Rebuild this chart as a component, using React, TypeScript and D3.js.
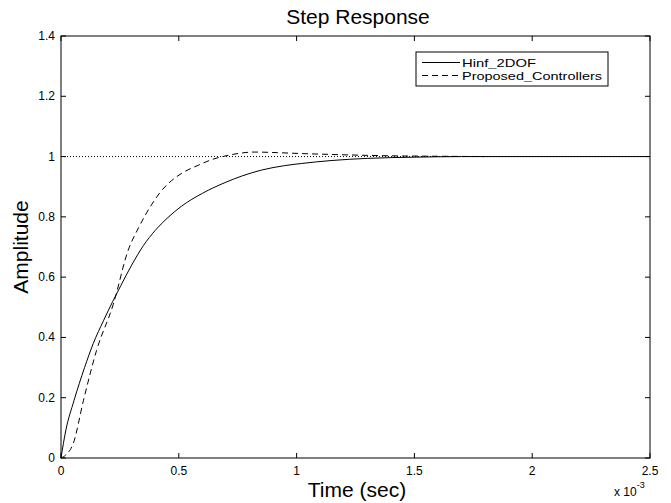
import React, { useEffect, useRef } from "react";
import * as d3 from "d3";

// time in units of 1e-3 sec
const hinfTime = [0, 0.02, 0.055, 0.1, 0.137, 0.18, 0.22, 0.254, 0.3, 0.35, 0.4, 0.45, 0.511, 0.6, 0.7, 0.766, 0.85, 0.95, 1.02, 1.15, 1.3, 1.5, 1.7, 1.8, 2.0, 2.5];
const hinfAmp = [0, 0.09, 0.19, 0.3, 0.38, 0.455, 0.52, 0.572, 0.64, 0.705, 0.755, 0.795, 0.835, 0.878, 0.915, 0.935, 0.955, 0.97, 0.977, 0.987, 0.994, 0.998, 1.0, 1.0, 1.0, 1.0];

const propTime = [0, 0.02, 0.052, 0.095, 0.151, 0.222, 0.285, 0.33, 0.384, 0.43, 0.469, 0.52, 0.582, 0.64, 0.709, 0.822, 0.92, 1.02, 1.15, 1.3, 1.45, 1.6, 1.8];
const propAmp = [0, 0.01, 0.048, 0.19, 0.357, 0.51, 0.689, 0.765, 0.84, 0.89, 0.92, 0.948, 0.971, 0.99, 1.004, 1.015, 1.013, 1.01, 1.007, 1.004, 1.002, 1.001, 1.0];

const xTicks = [0, 0.5, 1, 1.5, 2, 2.5];
const yTicks = [0, 0.2, 0.4, 0.6, 0.8, 1, 1.2, 1.4];
const legendLabels = ["Hinf_2DOF", "Proposed_Controllers"];

const W = 671;
const H = 503;

const App = () => {
  const chartRef = useRef<SVGSVGElement | null>(null);

  useEffect(() => {
    if (chartRef.current) drawChart(chartRef.current);
  }, []);

  const drawChart = (el: SVGSVGElement) => {
    const svg = d3.select(el);
    svg.selectAll("*").remove();

    const left = 61, right = 650, top = 36, bottom = 458;
    const font = "'Liberation Sans', Arial, sans-serif";

    const x = d3.scaleLinear().domain([0, 2.5]).range([left, right]);
    const y = d3.scaleLinear().domain([0, 1.4]).range([bottom, top]);

    svg.append("rect").attr("width", W).attr("height", H).attr("fill", "#fff");

    // steady-state dotted line
    svg.append("line")
      .attr("x1", x(0)).attr("x2", x(2.5))
      .attr("y1", y(1)).attr("y2", y(1))
      .attr("stroke", "#000").attr("stroke-width", 1)
      .attr("stroke-dasharray", "1,2");

    const line = d3.line<[number, number]>()
      .x((d) => x(d[0]))
      .y((d) => y(d[1]))
      .curve(d3.curveMonotoneX);

    const hinf = hinfTime.map((t, i) => [t, hinfAmp[i]] as [number, number]);
    const prop = propTime.map((t, i) => [t, propAmp[i]] as [number, number]);

    svg.append("path").datum(hinf)
      .attr("d", line).attr("fill", "none")
      .attr("stroke", "#000").attr("stroke-width", 1);

    svg.append("path").datum(prop)
      .attr("d", line).attr("fill", "none")
      .attr("stroke", "#000").attr("stroke-width", 1)
      .attr("stroke-dasharray", "6,4");

    // box
    svg.append("rect")
      .attr("x", left).attr("y", top)
      .attr("width", right - left).attr("height", bottom - top)
      .attr("fill", "none").attr("stroke", "#000").attr("stroke-width", 1);

    const tickLen = 5;
    const ticks = svg.append("g").attr("stroke", "#000").attr("stroke-width", 1);
    xTicks.forEach((t) => {
      ticks.append("line").attr("x1", x(t)).attr("x2", x(t)).attr("y1", bottom).attr("y2", bottom - tickLen);
      ticks.append("line").attr("x1", x(t)).attr("x2", x(t)).attr("y1", top).attr("y2", top + tickLen);
    });
    yTicks.forEach((t) => {
      ticks.append("line").attr("x1", left).attr("x2", left + tickLen).attr("y1", y(t)).attr("y2", y(t));
      ticks.append("line").attr("x1", right).attr("x2", right - tickLen).attr("y1", y(t)).attr("y2", y(t));
    });

    svg.append("g").selectAll("text").data(xTicks).enter().append("text")
      .attr("x", (d) => x(d)).attr("y", bottom + 17)
      .attr("text-anchor", "middle")
      .attr("font-family", font).attr("font-size", 12)
      .text((d) => String(d));

    svg.append("g").selectAll("text").data(yTicks).enter().append("text")
      .attr("x", left - 6).attr("y", (d) => y(d) + 4)
      .attr("text-anchor", "end")
      .attr("font-family", font).attr("font-size", 12)
      .text((d) => String(d));

    // exponent
    const exp = svg.append("text")
      .attr("x", 614).attr("y", 496)
      .attr("font-family", font).attr("font-size", 12);
    exp.append("tspan").text("x 10");
    exp.append("tspan").attr("dy", -8).attr("font-size", 9).text("-3");

    svg.append("text")
      .attr("x", 358).attr("y", 24)
      .attr("text-anchor", "middle")
      .attr("font-family", font).attr("font-size", 21)
      .text("Step Response");

    svg.append("text")
      .attr("x", 357).attr("y", 497)
      .attr("text-anchor", "middle")
      .attr("font-family", font).attr("font-size", 21)
      .text("Time (sec)");

    svg.append("text")
      .attr("transform", `translate(28,${(top + bottom) / 2}) rotate(-90)`)
      .attr("text-anchor", "middle")
      .attr("font-family", font).attr("font-size", 21)
      .text("Amplitude");

    // legend
    const lg = svg.append("g");
    lg.append("rect")
      .attr("x", 416).attr("y", 52).attr("width", 192).attr("height", 34)
      .attr("fill", "#fff").attr("stroke", "#000").attr("stroke-width", 1);
    const widths = [74, 140];
    legendLabels.forEach((label, i) => {
      const ly = 62.5 + i * 13;
      lg.append("line")
        .attr("x1", 422).attr("x2", 460).attr("y1", ly).attr("y2", ly)
        .attr("stroke", "#000").attr("stroke-width", 1)
        .attr("stroke-dasharray", i === 1 ? "6,4" : null);
      lg.append("text")
        .attr("x", 462).attr("y", ly + 4)
        .attr("font-family", font).attr("font-size", 11.5)
        .attr("textLength", widths[i])
        .attr("lengthAdjust", "spacingAndGlyphs")
        .text(label);
    });
  };

  return (
    <svg
      ref={chartRef}
      width={W}
      height={H}
      style={{ position: "absolute", left: 0, top: 0 }}
    />
  );
};

export default App;
